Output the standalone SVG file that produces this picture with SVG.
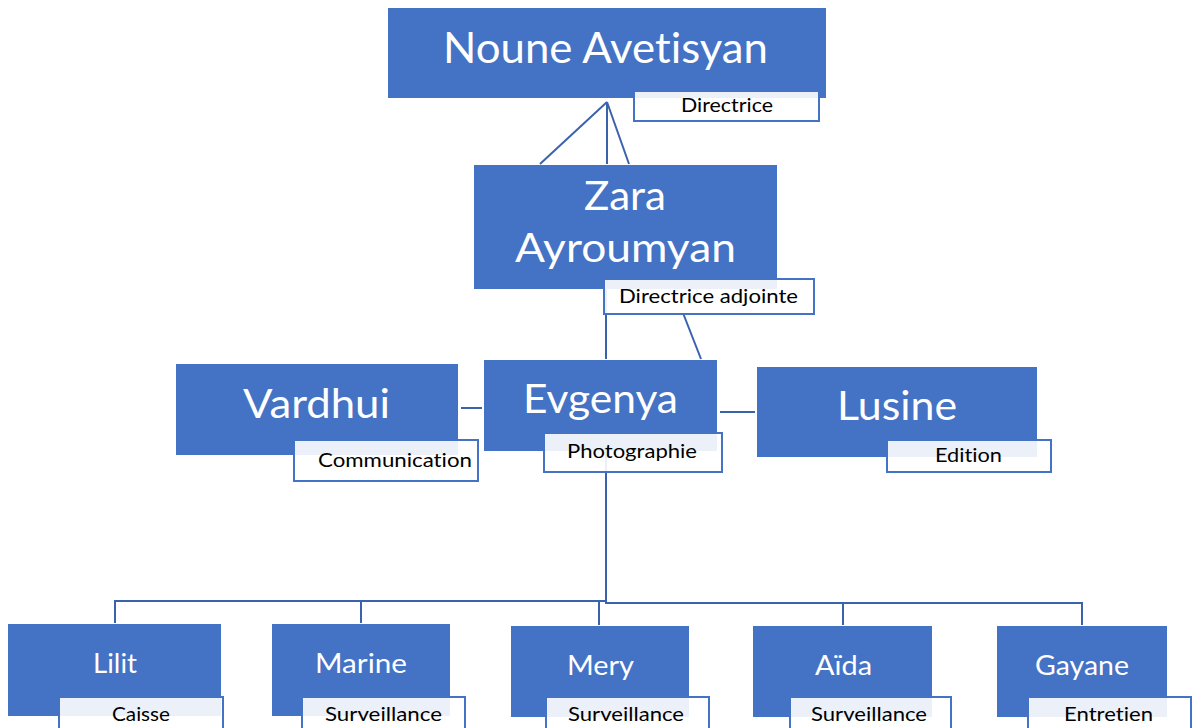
<svg xmlns="http://www.w3.org/2000/svg" width="1192" height="728" viewBox="0 0 1192 728">
<style>
text{font-variant-ligatures:none;}
.box{fill:#4472C4;}
.lbl{fill:#FFFFFF;fill-opacity:0.9;stroke:#4472C4;stroke-width:2;}
.name{fill:#FFFFFF;font-family:Lato,"Open Sans",sans-serif;text-anchor:middle;}
.role{fill:#000000;font-family:Lato,"Open Sans",sans-serif;text-anchor:middle;font-size:19px;}
.con{stroke:#3A62AD;stroke-width:2;fill:none;}
</style>
<rect width="1192" height="728" fill="#FFFFFF"/>
<g id="connectors">
<line class="con" x1="607" y1="102" x2="540" y2="164"/>
<line class="con" x1="607" y1="102" x2="607" y2="164"/>
<line class="con" x1="607" y1="102" x2="629" y2="164"/>
<line class="con" x1="606" y1="289" x2="606" y2="359"/>
<line class="con" x1="683" y1="313" x2="701" y2="359"/>
<line class="con" x1="461" y1="408" x2="482" y2="408"/>
<line class="con" x1="720" y1="412" x2="755" y2="412"/>
<polyline class="con" points="606,451 606,601 115,601 115,623"/>
<line class="con" x1="361" y1="601" x2="361" y2="623"/>
<line class="con" x1="599" y1="601" x2="599" y2="625"/>
<polyline class="con" points="606,601 606,603 1082,603 1082,625"/>
<line class="con" x1="843" y1="603" x2="843" y2="625"/>
</g>
<g id="node-noune">
<rect class="box" x="388" y="8" width="438" height="90"/>
<text class="name" x="605.5" y="63" font-size="43" textLength="325" lengthAdjust="spacingAndGlyphs">Noune Avetisyan</text>
<rect class="lbl" x="634" y="91" width="185" height="30"/>
<text class="role" x="727" y="112" textLength="92" lengthAdjust="spacingAndGlyphs">Directrice</text>
</g>
<g id="node-zara">
<rect class="box" x="474" y="165" width="303" height="124"/>
<text class="name" x="625" y="210" font-size="40" textLength="82" lengthAdjust="spacingAndGlyphs">Zara</text>
<text class="name" x="625.5" y="262" font-size="40" textLength="221" lengthAdjust="spacingAndGlyphs">Ayroumyan</text>
<rect class="lbl" x="604" y="279" width="210" height="35"/>
<text class="role" x="708.5" y="303" textLength="179" lengthAdjust="spacingAndGlyphs">Directrice adjointe</text>
</g>
<g id="node-vardhui">
<rect class="box" x="176" y="364" width="282" height="91"/>
<text class="name" x="316.5" y="418" font-size="40" textLength="147" lengthAdjust="spacingAndGlyphs">Vardhui</text>
<rect class="lbl" x="294" y="440" width="184" height="41"/>
<text class="role" x="395" y="467" textLength="154" lengthAdjust="spacingAndGlyphs">Communication</text>
</g>
<g id="node-evgenya">
<rect class="box" x="484" y="360" width="233" height="91"/>
<text class="name" x="600.5" y="413" font-size="40" textLength="155" lengthAdjust="spacingAndGlyphs">Evgenya</text>
<rect class="lbl" x="544" y="433" width="178" height="39"/>
<text class="role" x="632" y="458" textLength="130" lengthAdjust="spacingAndGlyphs">Photographie</text>
</g>
<g id="node-lusine">
<rect class="box" x="757" y="367" width="280" height="90"/>
<text class="name" x="897" y="420" font-size="40" textLength="120" lengthAdjust="spacingAndGlyphs">Lusine</text>
<rect class="lbl" x="887" y="440" width="164" height="32"/>
<text class="role" x="968.5" y="462" textLength="67" lengthAdjust="spacingAndGlyphs">Edition</text>
</g>
<g id="node-lilit">
<rect class="box" x="8" y="624" width="213" height="92"/>
<text class="name" x="115" y="673" font-size="27" textLength="44" lengthAdjust="spacingAndGlyphs">Lilit</text>
<rect class="lbl" x="59" y="697" width="164" height="45"/>
<text class="role" x="141" y="721" textLength="58" lengthAdjust="spacingAndGlyphs">Caisse</text>
</g>
<g id="node-marine">
<rect class="box" x="272" y="624" width="178" height="92"/>
<text class="name" x="361" y="673" font-size="27" textLength="92" lengthAdjust="spacingAndGlyphs">Marine</text>
<rect class="lbl" x="302" y="697" width="163" height="45"/>
<text class="role" x="383.5" y="721" textLength="117" lengthAdjust="spacingAndGlyphs">Surveillance</text>
</g>
<g id="node-mery">
<rect class="box" x="511" y="626" width="178" height="91"/>
<text class="name" x="600.5" y="675" font-size="27" textLength="67" lengthAdjust="spacingAndGlyphs">Mery</text>
<rect class="lbl" x="546" y="697" width="163" height="45"/>
<text class="role" x="626" y="721" textLength="116" lengthAdjust="spacingAndGlyphs">Surveillance</text>
</g>
<g id="node-aida">
<rect class="box" x="753" y="626" width="179" height="91"/>
<text class="name" x="843.5" y="675" font-size="27" textLength="57" lengthAdjust="spacingAndGlyphs">Aïda</text>
<rect class="lbl" x="790" y="697" width="161" height="45"/>
<text class="role" x="869" y="721" textLength="116" lengthAdjust="spacingAndGlyphs">Surveillance</text>
</g>
<g id="node-gayane">
<rect class="box" x="997" y="626" width="170" height="91"/>
<text class="name" x="1082" y="675" font-size="27" textLength="94" lengthAdjust="spacingAndGlyphs">Gayane</text>
<rect class="lbl" x="1028" y="697" width="163" height="45"/>
<text class="role" x="1108.5" y="721" textLength="89" lengthAdjust="spacingAndGlyphs">Entretien</text>
</g>
</svg>
